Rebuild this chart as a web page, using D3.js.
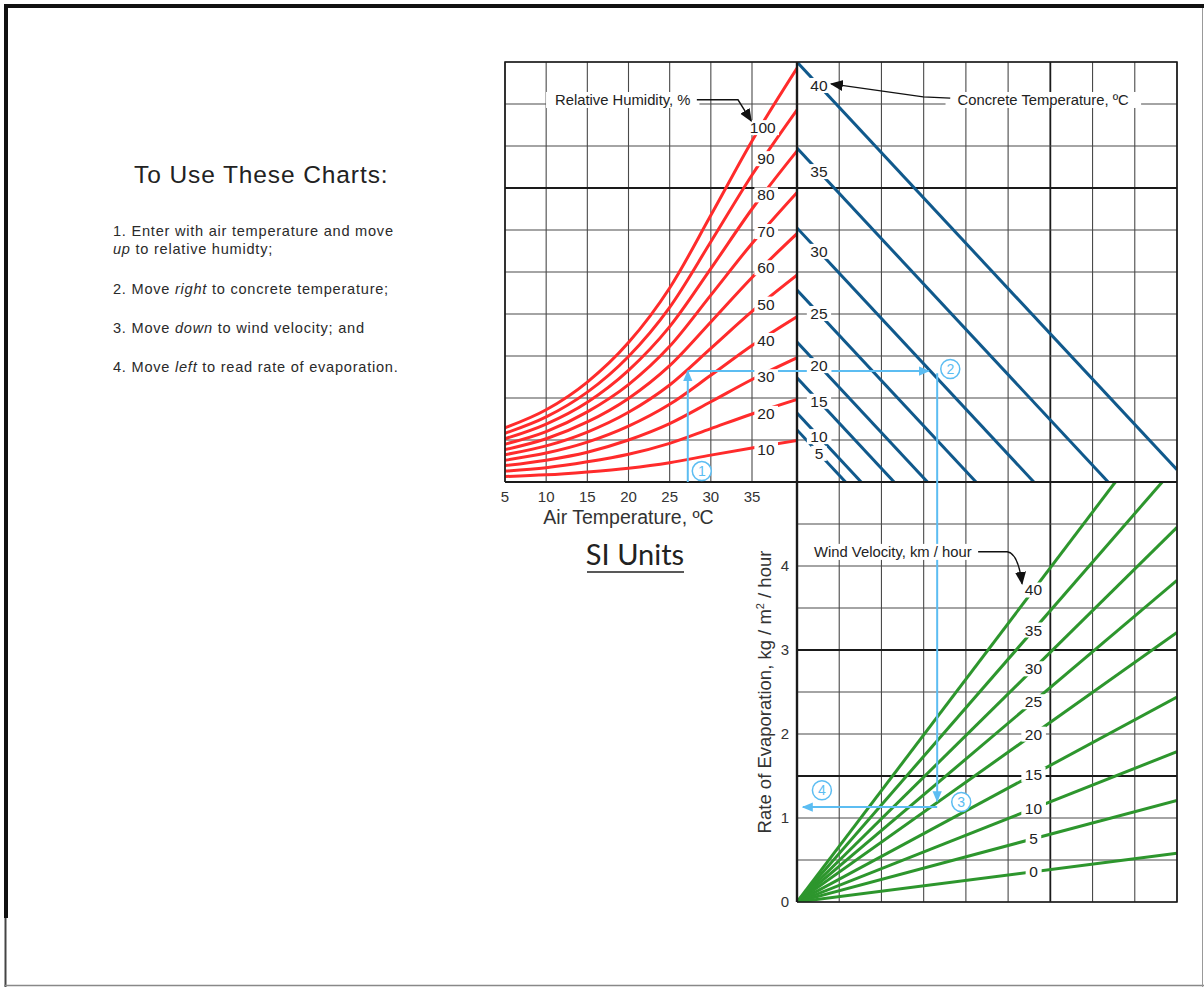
<!DOCTYPE html>
<html>
<head>
<meta charset="utf-8">
<script src="https://cdn.jsdelivr.net/npm/d3@7"></script>
<style>
  body { margin: 0; background: #fff; }
  svg { display: block; font-family: "Liberation Sans", Arial, sans-serif; }
</style>
</head>
<body>
<div id="area"></div>
<script>
var width = 1204,
    height = 987;

var red = '#ff2b2b',
    blue = '#10598c',
    green = '#2d962d',
    guide = '#5cbdf2',
    gridColor = '#4a4a4a',
    inkColor = '#222';

// air temperature, deg C (x of upper-left chart)
var airTicks = [5, 10, 15, 20, 25, 30, 35];
var airTemps = [5, 10, 15, 20, 25, 30, 35, 40.5];

// relative humidity curves: vapour pressure read in grid divisions at each air temp
var humidityLevels = [100, 90, 80, 70, 60, 50, 40, 30, 20, 10];
var rh100 = [1.29, 1.72, 2.38, 3.32, 4.62, 6.35, 8.12, 9.86];
var rh90  = [1.16, 1.55, 2.14, 2.99, 4.16, 5.72, 7.31, 8.87];
var rh80  = [1.03, 1.38, 1.90, 2.66, 3.70, 5.08, 6.50, 7.89];
var rh70  = [0.90, 1.20, 1.67, 2.32, 3.23, 4.45, 5.68, 6.90];
var rh60  = [0.77, 1.03, 1.43, 1.99, 2.77, 3.81, 4.87, 5.92];
var rh50  = [0.65, 0.86, 1.19, 1.66, 2.31, 3.18, 4.06, 4.93];
var rh40  = [0.52, 0.69, 0.95, 1.33, 1.85, 2.54, 3.25, 3.94];
var rh30  = [0.39, 0.52, 0.71, 1.00, 1.39, 1.91, 2.44, 2.96];
var rh20  = [0.26, 0.34, 0.48, 0.66, 0.92, 1.27, 1.62, 1.97];
var rh10  = [0.13, 0.17, 0.24, 0.33, 0.46, 0.64, 0.81, 0.99];
var humidityCurves = [rh100, rh90, rh80, rh70, rh60, rh50, rh40, rh30, rh20, rh10];

// concrete temperature lines (upper-right chart): start on left edge, end point [u, v]
var concreteTemps = [5, 10, 15, 20, 25, 30, 35, 40];
var concreteStart = [1.24, 1.64, 2.48, 3.33, 4.57, 6.05, 7.95, 10.0];
var concreteEnd = [[1.15, 0], [1.52, 0], [2.30, 0], [3.09, 0], [4.24, 0], [5.61, 0], [7.37, 0], [9, 0.29]];

// wind velocity lines (lower chart): rays from origin to end point [u, rate]
var windSpeeds = [0, 5, 10, 15, 20, 25, 30, 35, 40];
var windEnd = [[9, 0.58], [9, 1.21], [9, 1.79], [9, 2.44], [9, 3.21], [9, 3.83], [9, 4.46], [8.65, 5], [7.54, 5]];

// rate of evaporation, kg / m2 / hour
var rateTicks = [0, 1, 2, 3, 4];

// worked example path
var exampleAir = 27.2,
    exampleVapour = 2.64,
    exampleConcreteU = 3.12,
    exampleDownU = 3.32,
    exampleRate = 1.13;

var instructions = [
  [['1. Enter with air temperature and move', false]],
  [['up', true], [' to relative humidty;', false]],
  [['2. Move ', false], ['right', true], [' to concrete temperature;', false]],
  [['3. Move ', false], ['down', true], [' to wind velocity; and', false]],
  [['4. Move ', false], ['left', true], [' to read rate of evaporation.', false]]
];
var instructionY = [236, 254, 294, 333, 372];

// scales
var xT = d3.scaleLinear().domain([5, 35]).range([505, 752]);
var xU = d3.scaleLinear().domain([0, 9]).range([797, 1177]);
var yV = d3.scaleLinear().domain([0, 10]).range([482, 62]);
var yR = d3.scaleLinear().domain([0, 5]).range([902, 482]);

var svg = d3.select('#area').append('svg').attr('width', width).attr('height', height);
var defs = svg.append('defs');

function marker(id, color, size) {
  defs.append('marker')
    .attr('id', id)
    .attr('viewBox', '0 0 10 10')
    .attr('refX', 9).attr('refY', 5)
    .attr('markerWidth', size).attr('markerHeight', size)
    .attr('markerUnits', 'userSpaceOnUse')
    .attr('orient', 'auto')
    .append('path').attr('d', 'M0,0.8 L10,5 L0,9.2 Z').attr('fill', color);
}
marker('arrowInk', '#111', 13);
marker('arrowGuide', guide, 11);

function clip(id, x0, y0, x1, y1) {
  defs.append('clipPath').attr('id', id).append('rect')
    .attr('x', x0).attr('y', y0).attr('width', x1 - x0).attr('height', y1 - y0);
}
clip('clipTL', xT(5), yV(10), xU(0), yV(0));
clip('clipTR', xU(0), yV(10), xU(9), yV(0));
clip('clipB', xU(0), yR(5), xU(9), yR(0));

// page frame
svg.append('line').attr('x1', 4).attr('x2', 1204).attr('y1', 6).attr('y2', 6).attr('stroke', '#111').attr('stroke-width', 4);
svg.append('line').attr('x1', 6).attr('x2', 6).attr('y1', 4).attr('y2', 918).attr('stroke', '#111').attr('stroke-width', 4);
svg.append('line').attr('x1', 5.5).attr('x2', 5.5).attr('y1', 918).attr('y2', 987).attr('stroke', '#444').attr('stroke-width', 2);
svg.append('line').attr('x1', 4).attr('x2', 1204).attr('y1', 985.5).attr('y2', 985.5).attr('stroke', '#888').attr('stroke-width', 1.5);
svg.append('line').attr('x1', 1202.5).attr('x2', 1202.5).attr('y1', 8).attr('y2', 987).attr('stroke', '#999').attr('stroke-width', 1);

// grids
function grid(xs, ys, xScale, yScale, heavyX, heavyY) {
  var g = svg.append('g');
  var y0 = yScale(d3.min(ys)), y1 = yScale(d3.max(ys));
  var x0 = xScale(d3.min(xs)), x1 = xScale(d3.max(xs));
  g.selectAll('.v').data(xs).join('line')
    .attr('x1', function(d) { return xScale(d); }).attr('x2', function(d) { return xScale(d); })
    .attr('y1', y0).attr('y2', y1)
    .attr('stroke', function(d) { return heavyX.indexOf(d) >= 0 ? '#1a1a1a' : gridColor; })
    .attr('stroke-width', function(d) { return heavyX.indexOf(d) >= 0 ? 1.8 : 1.1; });
  g.selectAll('.h').data(ys).join('line')
    .attr('y1', function(d) { return yScale(d); }).attr('y2', function(d) { return yScale(d); })
    .attr('x1', x0).attr('x2', x1)
    .attr('stroke', function(d) { return heavyY.indexOf(d) >= 0 ? '#1a1a1a' : gridColor; })
    .attr('stroke-width', function(d) { return heavyY.indexOf(d) >= 0 ? 1.8 : 1.1; });
  return g;
}
var vapourDivs = d3.range(0, 11);
var uDivs = d3.range(0, 10);
var rateDivs = d3.range(0, 11).map(function(i) { return i / 2; });

grid(airTicks.concat([40.47]), vapourDivs, xT, yV, [], [7]);
grid(uDivs, vapourDivs, xU, yV, [6], [7]);
grid(uDivs, rateDivs, xU, yR, [6], [1.5, 3]);

// humidity curves
var humidLine = d3.line()
  .x(function(d) { return xT(d[0]); })
  .y(function(d) { return yV(d[1]); })
  .curve(d3.curveMonotoneX);

svg.append('g').attr('clip-path', 'url(#clipTL)')
  .selectAll('path').data(humidityCurves).join('path')
  .attr('d', function(c) { return humidLine(airTemps.map(function(t, i) { return [t, c[i]]; })); })
  .attr('fill', 'none').attr('stroke', red).attr('stroke-width', 3).attr('stroke-linecap', 'round');

// concrete temperature lines
svg.append('g').attr('clip-path', 'url(#clipTR)')
  .selectAll('line').data(concreteTemps).join('line')
  .attr('x1', xU(0)).attr('y1', function(d, i) { return yV(concreteStart[i]); })
  .attr('x2', function(d, i) { return xU(concreteEnd[i][0]); })
  .attr('y2', function(d, i) { return yV(concreteEnd[i][1]); })
  .attr('stroke', blue).attr('stroke-width', 3);

// wind lines
svg.append('g').attr('clip-path', 'url(#clipB)')
  .selectAll('line').data(windSpeeds).join('line')
  .attr('x1', xU(0)).attr('y1', yR(0))
  .attr('x2', function(d, i) { return xU(windEnd[i][0]); })
  .attr('y2', function(d, i) { return yR(windEnd[i][1]); })
  .attr('stroke', green).attr('stroke-width', 3);

// panel borders
var frame = svg.append('g').attr('stroke', '#1a1a1a').attr('fill', 'none');
frame.append('path').attr('stroke-width', 1.6)
  .attr('d', 'M' + xT(5) + ',' + yV(0) + 'V' + yV(10) + 'H' + xU(9) + 'V' + yR(0) + 'H' + xU(0));
frame.append('line').attr('stroke-width', 2.4)
  .attr('x1', xU(0)).attr('x2', xU(0)).attr('y1', yV(10)).attr('y2', yR(0));
frame.append('line').attr('stroke-width', 2)
  .attr('x1', xT(5)).attr('x2', xU(9)).attr('y1', yV(0)).attr('y2', yV(0));

// worked example
var ex = svg.append('g').attr('stroke', guide).attr('stroke-width', 2).attr('fill', 'none');
ex.append('line')
  .attr('x1', xT(exampleAir)).attr('x2', xT(exampleAir))
  .attr('y1', yV(0)).attr('y2', yV(exampleVapour))
  .attr('marker-end', 'url(#arrowGuide)');
ex.append('line')
  .attr('x1', xT(exampleAir)).attr('x2', xU(exampleConcreteU))
  .attr('y1', yV(exampleVapour)).attr('y2', yV(exampleVapour))
  .attr('marker-end', 'url(#arrowGuide)');
ex.append('line')
  .attr('x1', xU(exampleDownU)).attr('x2', xU(exampleDownU))
  .attr('y1', yV(exampleVapour - 0.05)).attr('y2', yR(exampleRate + 0.07))
  .attr('marker-end', 'url(#arrowGuide)');
ex.append('line')
  .attr('x1', xU(exampleDownU)).attr('x2', xU(0.14))
  .attr('y1', yR(exampleRate)).attr('y2', yR(exampleRate))
  .attr('marker-end', 'url(#arrowGuide)');

var steps = [
  ['1', xT(28.9), yV(0.26)],
  ['2', xU(3.63), yV(2.69)],
  ['3', xU(3.89), yR(1.19)],
  ['4', xU(0.59), yR(1.33)]
];
var stepG = svg.append('g').selectAll('g').data(steps).join('g')
  .attr('transform', function(d) { return 'translate(' + d[1] + ',' + d[2] + ')'; });
stepG.append('circle').attr('r', 9.5).attr('fill', '#fff').attr('stroke', guide).attr('stroke-width', 1.5);
stepG.append('text').attr('text-anchor', 'middle').attr('dy', '0.36em')
  .attr('font-size', 14).attr('fill', guide).text(function(d) { return d[0]; });

// labels with white backing
function addLabel(x, y, str, size, padX, padY) {
  var g = svg.append('g');
  var t = g.append('text').attr('x', x).attr('y', y).attr('dy', '0.35em')
    .attr('text-anchor', 'middle').attr('font-size', size).attr('fill', inkColor).text(str);
  var b = t.node().getBBox();
  g.insert('rect', 'text')
    .attr('x', b.x - padX).attr('y', b.y + 2 - padY)
    .attr('width', b.width + 2 * padX).attr('height', b.height - 4 + 2 * padY)
    .attr('fill', '#fff');
  return t;
}

function valueAt(curve, t) {
  var i = d3.bisectRight(airTemps, t) - 1;
  i = Math.max(0, Math.min(airTemps.length - 2, i));
  var f = (t - airTemps[i]) / (airTemps[i + 1] - airTemps[i]);
  return curve[i] + f * (curve[i + 1] - curve[i]);
}

humidityLevels.forEach(function(h, i) {
  var t = i === 0 ? 36.3 : 36.7;
  addLabel(xT(t), yV(valueAt(humidityCurves[i], t)) + 4, String(h), 15.5, 3, 1);
});

concreteTemps.forEach(function(c, i) {
  var u = 0.52;
  var slope = (concreteEnd[i][1] - concreteStart[i]) / concreteEnd[i][0];
  addLabel(xU(u), yV(concreteStart[i] + slope * u), String(c), 15.5, 3.5, 1);
});

windSpeeds.forEach(function(w, i) {
  var u = 5.6;
  var slope = windEnd[i][1] / windEnd[i][0];
  addLabel(xU(u), yR(slope * u), String(w), 15.5, 3.5, 1);
});

// annotations
addLabel(xT(19.3), yV(9.1), 'Relative Humidity, %', 14.8, 9, 2);
addLabel(xU(5.83), yV(9.1), 'Concrete Temperature, \u00baC', 14.8, 12, 2);
addLabel(xU(2.27), yR(4.17), 'Wind Velocity, km / hour', 14.8, 8, 2);

var ann = svg.append('g').attr('stroke', '#111').attr('stroke-width', 1.4).attr('fill', 'none');
ann.append('path')
  .attr('d', 'M' + xT(28.3) + ',' + yV(9.1) + 'L' + xT(33.3) + ',' + yV(9.1) + 'L' + xT(34.9) + ',' + yV(8.6))
  .attr('marker-end', 'url(#arrowInk)');
ann.append('path')
  .attr('d', 'M' + xU(3.63) + ',' + yV(9.14) + 'L' + xU(2.99) + ',' + yV(9.17) + 'L' + xU(0.81) + ',' + yV(9.48))
  .attr('marker-end', 'url(#arrowInk)');
ann.append('path')
  .attr('d', 'M' + xU(4.29) + ',' + yR(4.17) + 'L' + xU(4.98) + ',' + yR(4.17) +
    'Q' + xU(5.24) + ',' + yR(4.15) + ' ' + xU(5.33) + ',' + yR(3.79))
  .attr('marker-end', 'url(#arrowInk)');

// axes text
svg.append('g').selectAll('text').data(airTicks).join('text')
  .attr('x', function(d) { return xT(d); }).attr('y', yV(0) + 20)
  .attr('text-anchor', 'middle').attr('font-size', 15).attr('fill', '#333')
  .text(function(d) { return d; });

svg.append('text').attr('x', xT(20)).attr('y', yV(0) + 42)
  .attr('text-anchor', 'middle').attr('font-size', 19.5).attr('fill', '#333')
  .text('Air Temperature, \u00baC');

svg.append('g').selectAll('text').data(rateTicks).join('text')
  .attr('x', xU(0) - 8).attr('y', function(d) { return yR(d); }).attr('dy', '0.35em')
  .attr('text-anchor', 'end').attr('font-size', 15).attr('fill', '#333')
  .text(function(d) { return d; });

var rateTitle = svg.append('text')
  .attr('transform', 'translate(' + (xU(0) - 26) + ',' + yR(2.5) + ') rotate(-90)')
  .attr('text-anchor', 'middle').attr('font-size', 18.5).attr('fill', '#333');
rateTitle.append('tspan').text('Rate of Evaporation, kg / m');
rateTitle.append('tspan').attr('font-size', 11).attr('dy', -7).text('2');
rateTitle.append('tspan').attr('dy', 7).text(' / hour');

svg.append('text').attr('x', 635).attr('y', 565)
  .attr('text-anchor', 'middle').attr('font-family', 'Lato, "Open Sans", sans-serif')
  .attr('font-size', 29).attr('fill', '#222').text('SI Units');
svg.append('line').attr('x1', 587).attr('x2', 684).attr('y1', 572).attr('y2', 572)
  .attr('stroke', '#222').attr('stroke-width', 1.6);

// instructions
svg.append('text').attr('x', 134).attr('y', 183)
  .attr('font-size', 24.5).attr('letter-spacing', 0.9).attr('fill', '#222')
  .text('To Use These Charts:');

var lines = svg.append('g').selectAll('text').data(instructions).join('text')
  .attr('x', 113).attr('y', function(d, i) { return instructionY[i]; })
  .attr('font-size', 14.6).attr('letter-spacing', 0.75).attr('fill', '#2a2a2a');
lines.selectAll('tspan').data(function(d) { return d; }).join('tspan')
  .attr('font-style', function(d) { return d[1] ? 'italic' : 'normal'; })
  .text(function(d) { return d[0]; });
</script>
</body>
</html>
